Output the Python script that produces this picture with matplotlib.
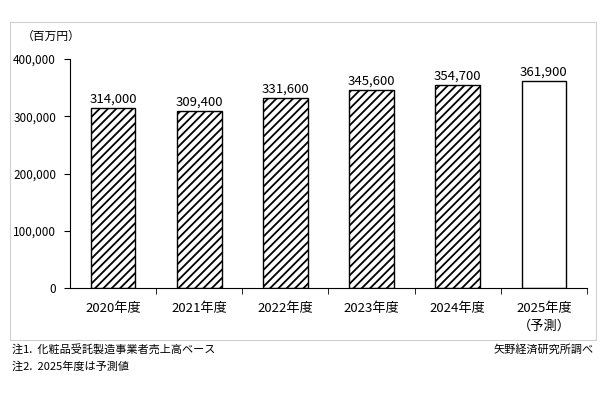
import matplotlib
matplotlib.use("Agg")
import matplotlib.pyplot as plt
from matplotlib.patches import Rectangle

plt.rcParams['font.family'] = ['Noto Sans CJK JP', 'DejaVu Sans']
plt.rcParams['hatch.linewidth'] = 1.3

categories = ['2020年度', '2021年度', '2022年度', '2023年度', '2024年度', '2025年度\n（予測）']
values = [314000, 309400, 331600, 345600, 354700, 361900]
forecast = [False, False, False, False, False, True]
yticks = [0, 100000, 200000, 300000, 400000]

fig = plt.figure(figsize=(6, 4), dpi=100)
fig.patches.append(Rectangle((10/600, 1-340/400), 586/600, 318/400, transform=fig.transFigure,
                             fill=False, edgecolor='#d0d0d0', linewidth=0.8))
ax = fig.add_axes([70/600, 1-288/400, 517/600, 229/400])
x = list(range(len(values)))
for i, (v, f) in enumerate(zip(values, forecast)):
    ax.bar(i, v, width=0.52, facecolor='white', edgecolor='black', linewidth=1.0,
           hatch=None if f else '////')
    ax.text(i, v + 4000, f'{v:,}', ha='center', va='bottom', fontsize=9.5)
ax.set_xlim(-0.5, len(values) - 0.5)
ax.set_ylim(0, 400000)
ax.set_yticks(yticks)
ax.set_yticklabels([f'{t:,}' for t in yticks], fontsize=8.5)
ax.set_xticks(x)
ax.set_xticklabels(categories, fontsize=9.5, linespacing=1.5)
ax.set_xticks([i + 0.5 for i in x], minor=True)
ax.tick_params(axis='x', which='major', length=0, pad=10)
ax.tick_params(axis='x', which='minor', length=4, direction='out')
ax.tick_params(axis='y', length=4, direction='out', pad=6)
for s in ['top', 'right']:
    ax.spines[s].set_visible(False)
fig.text(22/600, 1-36/400, '（百万円）', fontsize=8.5, va='center')
fig.text(12/600, 1-350/400, '注1.  化粧品受託製造事業者売上高ベース', fontsize=8, va='center')
fig.text(12/600, 1-367/400, '注2.  2025年度は予測値', fontsize=8, va='center')
fig.text(594/600, 1-350/400, '矢野経済研究所調べ', fontsize=8, va='center', ha='right')
fig.savefig('out.png', dpi=100)
